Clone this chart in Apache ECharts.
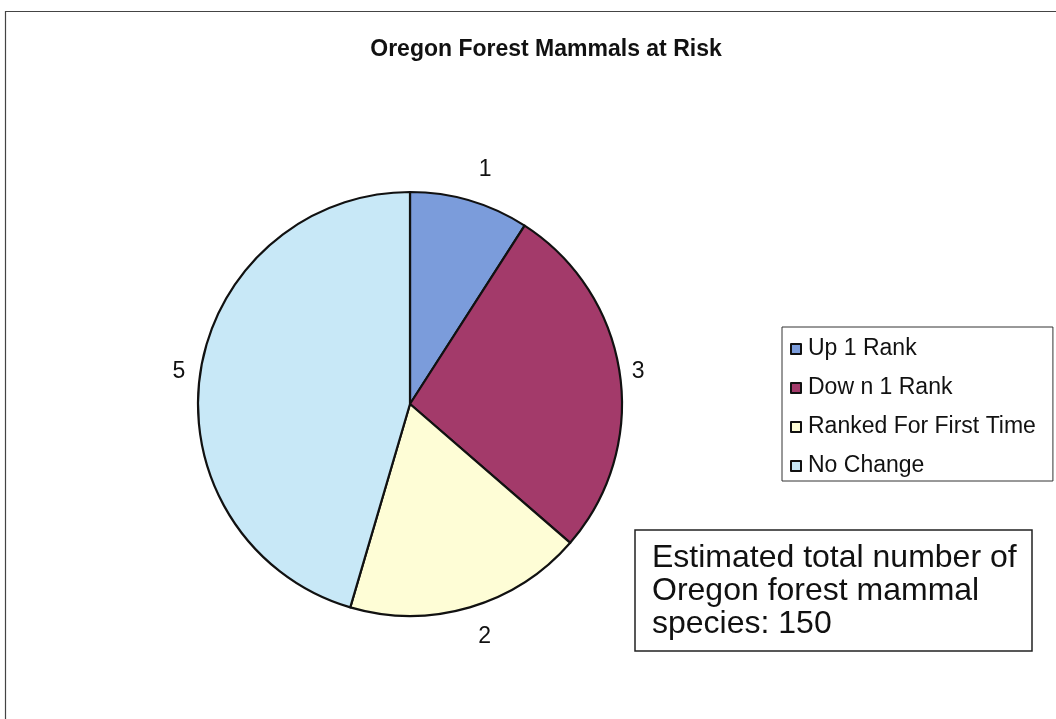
<!DOCTYPE html>
<html>
<head>
<meta charset="utf-8">
<script src="https://cdn.jsdelivr.net/npm/echarts@6/dist/echarts.min.js"></script>
<style>
  html, body { margin: 0; padding: 0; background: #fff; }
  #chart { width: 1056px; height: 719px; }
</style>
</head>
<body>
<div id="chart"></div>
<script>
// data
const categories = ['Up 1 Rank', 'Down 1 Rank', 'Ranked For First Time', 'No Change'];
const legendLabels = ['Up 1 Rank', 'Dow n 1 Rank', 'Ranked For First Time', 'No Change'];
const counts = [1, 3, 2, 5];
const sliceColors = ['#7b9cdb', '#a33a6a', '#fefdd6', '#c8e8f7'];
// how far each value label sits outside the pie edge
const labelOffsets = [32, 12, 30, 15];

document.addEventListener("DOMContentLoaded", function () {
  const chart = echarts.init(document.getElementById('chart'));
  const font = 'Liberation Sans, Arial, sans-serif';

  chart.setOption({
    animation: false,
    title: [
      {
        text: 'Oregon Forest Mammals at Risk',
        left: 541, top: 33,
        textAlign: 'center',
        textStyle: { fontFamily: font, fontSize: 23, fontWeight: 'bold', color: '#111' }
      },
      {
        text: 'Estimated total number of\nOregon forest mammal\nspecies: 150',
        left: 635, top: 530,
        padding: [12, 16, 10, 17],
        borderColor: '#222', borderWidth: 1.5,
        textStyle: { fontFamily: font, fontSize: 32, fontWeight: 'normal', color: '#111', lineHeight: 33 }
      }
    ],
    legend: {
      orient: 'vertical',
      left: 782, top: 327,
      padding: [10, 17, 3, 8],
      itemGap: 15,
      itemWidth: 10, itemHeight: 10,
      icon: 'rect',
      borderColor: '#333', borderWidth: 1,
      formatter: function (name) { return legendLabels[categories.indexOf(name)]; },
      textStyle: { fontFamily: font, fontSize: 23, lineHeight: 24, color: '#111', padding: [0, 0, 0, 2] },
      data: categories
    },
    series: [{
      type: 'pie',
      center: [410, 404],
      radius: 212,
      startAngle: 90,
      clockwise: true,
      color: sliceColors,
      itemStyle: { borderColor: '#111', borderWidth: 2.2 },
      label: {
        show: true,
        position: 'outside',
        formatter: '{c}',
        distanceToLabelLine: 0,
        fontFamily: font, fontSize: 23, color: '#111'
      },
      labelLine: { show: false, length: 18, length2: 0 },
      emphasis: { disabled: true },
      data: categories.map((name, i) => ({
        name: name,
        value: counts[i],
        labelLine: { show: false, length: labelOffsets[i], length2: 0 }
      }))
    }],
    graphic: [{
      type: 'rect',
      shape: { x: 5.5, y: 11.5, width: 1100, height: 800 },
      style: { fill: 'none', stroke: '#444', lineWidth: 1.2 },
      silent: true
    }]
  });

  window.addEventListener("resize", function () {
    chart.resize();
  });
});
</script>
</body>
</html>
